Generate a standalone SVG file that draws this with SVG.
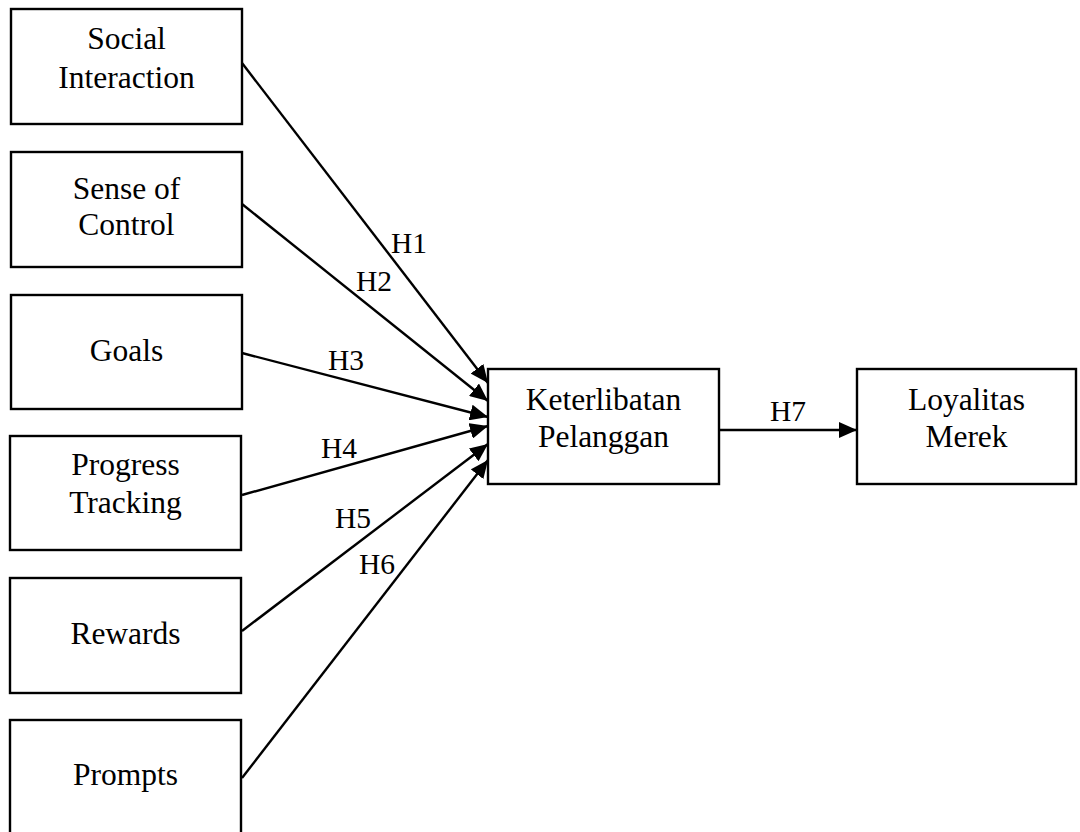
<svg xmlns="http://www.w3.org/2000/svg" width="1080" height="832" viewBox="0 0 1080 832">
<style>
.box{fill:#fff;stroke:#000;stroke-width:2.4}
.t{font-family:"Liberation Serif","Times New Roman",serif;font-size:31.5px;text-anchor:middle;fill:#000}
.h{font-family:"Liberation Serif","Times New Roman",serif;font-size:29.5px;fill:#000}
.ln{stroke:#000;stroke-width:2.4;fill:none}
</style>
<defs>
<marker id="ah" markerUnits="userSpaceOnUse" markerWidth="20" markerHeight="16" refX="18" refY="8" orient="auto">
<path d="M0,0 L18,8 L0,16 Z" fill="#000"/>
</marker>
</defs>
<rect width="1080" height="832" fill="#fff"/>
<g id="connectors">
<line class="ln" x1="242" y1="63" x2="488" y2="383" marker-end="url(#ah)"/>
<line class="ln" x1="242" y1="204" x2="488" y2="401" marker-end="url(#ah)"/>
<line class="ln" x1="242" y1="353" x2="488" y2="417" marker-end="url(#ah)"/>
<line class="ln" x1="242" y1="495" x2="488" y2="426" marker-end="url(#ah)"/>
<line class="ln" x1="242" y1="631" x2="488" y2="444" marker-end="url(#ah)"/>
<line class="ln" x1="242" y1="778" x2="488" y2="460" marker-end="url(#ah)"/>
<line class="ln" x1="719" y1="430" x2="857" y2="430" marker-end="url(#ah)"/>
<text class="h" x="391" y="253">H1</text>
<text class="h" x="356" y="291">H2</text>
<text class="h" x="328" y="370">H3</text>
<text class="h" x="321" y="458">H4</text>
<text class="h" x="335" y="528">H5</text>
<text class="h" x="359" y="574">H6</text>
<text class="h" x="770" y="421">H7</text>
</g>
<g id="social-interaction">
<rect class="box" x="11" y="9" width="231" height="115"/>
<text class="t" x="126.5" y="49">Social</text>
<text class="t" x="126.5" y="88">Interaction</text>
</g>
<g id="sense-of-control">
<rect class="box" x="11" y="152" width="231" height="115"/>
<text class="t" x="126.5" y="199">Sense of</text>
<text class="t" x="126.5" y="235">Control</text>
</g>
<g id="goals">
<rect class="box" x="11" y="295" width="231" height="114"/>
<text class="t" x="126.5" y="361">Goals</text>
</g>
<g id="progress-tracking">
<rect class="box" x="10" y="436" width="231" height="114"/>
<text class="t" x="125.5" y="475">Progress</text>
<text class="t" x="125.5" y="513">Tracking</text>
</g>
<g id="rewards">
<rect class="box" x="10" y="578" width="231" height="115"/>
<text class="t" x="125.5" y="644">Rewards</text>
</g>
<g id="prompts">
<rect class="box" x="10" y="720" width="231" height="130"/>
<text class="t" x="125.5" y="785">Prompts</text>
</g>
<g id="keterlibatan-pelanggan">
<rect class="box" x="488" y="369" width="231" height="115"/>
<text class="t" x="603.5" y="410">Keterlibatan</text>
<text class="t" x="603.5" y="447">Pelanggan</text>
</g>
<g id="loyalitas-merek">
<rect class="box" x="857" y="369" width="219" height="115"/>
<text class="t" x="966.5" y="410">Loyalitas</text>
<text class="t" x="966.5" y="447">Merek</text>
</g>
</svg>
